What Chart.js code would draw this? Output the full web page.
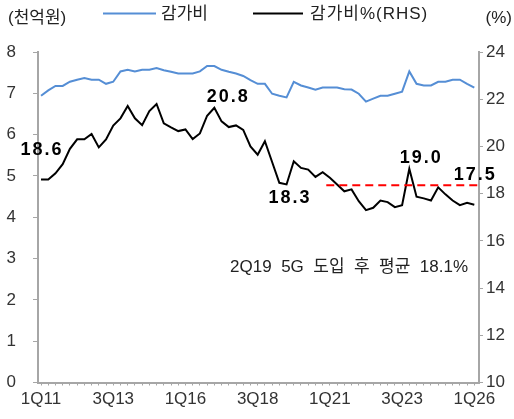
<!DOCTYPE html>
<html>
<head>
<meta charset="utf-8">
<script src="https://cdn.jsdelivr.net/npm/chart.js@4.4.1/dist/chart.umd.min.js"></script>
<style>
  html, body { margin: 0; padding: 0; background: #fff; }
</style>
</head>
<body>
<canvas id="chart" width="514" height="419"></canvas>
<script>
// quarters 1Q11 .. 1Q26
const quarters = [];
for (let y = 11; y <= 26; y++) {
    for (let q = 1; q <= 4; q++) {
        if (quarters.length < 61) quarters.push(q + "Q" + y);
    }
}
const tickLabels = ["1Q11", "3Q13", "1Q16", "3Q18", "1Q21", "3Q23", "1Q26"];

// 감가비 (천억원)
const depreciation = [
    6.94, 7.07, 7.18, 7.18, 7.28, 7.33, 7.37, 7.33, 7.33, 7.23,
    7.28, 7.53, 7.57, 7.53, 7.57, 7.57, 7.61, 7.56, 7.52, 7.48,
    7.48, 7.48, 7.53, 7.66, 7.66, 7.57, 7.52, 7.48, 7.42, 7.32,
    7.23, 7.23, 6.99, 6.94, 6.90, 7.28, 7.19, 7.14, 7.09, 7.14,
    7.14, 7.14, 7.10, 7.09, 6.99, 6.80, 6.87, 6.94, 6.94, 6.99,
    7.04, 7.53, 7.23, 7.19, 7.19, 7.28, 7.28, 7.33, 7.33, 7.23,
    7.14
];

// 감가비% (RHS)
const ratio = [
    18.60, 18.60, 18.86, 19.25, 19.90, 20.30, 20.30, 20.53, 19.96, 20.30,
    20.88, 21.19, 21.71, 21.19, 20.90, 21.50, 21.80, 20.98, 20.81, 20.65,
    20.72, 20.31, 20.55, 21.30, 21.64, 21.06, 20.82, 20.89, 20.70, 20.00,
    19.65, 20.22, 19.34, 18.46, 18.39, 19.37, 19.09, 19.02, 18.71, 18.91,
    18.67, 18.39, 18.10, 18.18, 17.68, 17.30, 17.40, 17.71, 17.64, 17.43,
    17.51, 19.05, 17.87, 17.80, 17.71, 18.27, 17.97, 17.71, 17.51, 17.61,
    17.53
];

// average line after 5G
const avgValue = 18.36;
const avgRange = [39.5, 60.65];
const avgText = "2Q19  5G  도입  후  평균  18.1%";

// value callouts
const calloutIndex = [0, 24, 34, 51, 60];
const calloutText = ["18.6", "20.8", "18.3", "19.0", "17.5"];
const calloutOffset = [[1, -29], [14, -11], [3.5, 14], [12, -11], [1, -30]];

const FONT = '"Liberation Sans", "Noto Sans CJK KR", sans-serif';
const AXIS_COLOR = "#a6a6a6";
const TEXT_COLOR = "#333";

const overlay = {
    id: "overlay",
    afterDraw(chart) {
        const ctx = chart.ctx;
        const x = chart.scales.x;
        const yR = chart.scales.yR;
        const area = chart.chartArea;
        ctx.save();

        // callouts
        ctx.font = "bold 18px " + FONT;
        ctx.letterSpacing = "2px";
        ctx.fillStyle = "#000";
        ctx.textAlign = "center";
        ctx.textBaseline = "middle";
        calloutIndex.forEach((idx, k) => {
            const px = x.getPixelForValue(idx) + calloutOffset[k][0];
            const py = yR.getPixelForValue(ratio[idx]) + calloutOffset[k][1];
            ctx.fillText(calloutText[k], px, py);
        });
        ctx.letterSpacing = "0px";

        // average note
        ctx.font = "17px " + FONT;
        ctx.fillStyle = "#222";
        ctx.textAlign = "right";
        ctx.fillText(avgText, area.right - 11, area.top + 215);

        // units + legend
        ctx.font = "17px " + FONT;
        ctx.fillStyle = "#222";
        ctx.textAlign = "left";
        ctx.fillText("(천억원)", 8, 18);
        ctx.textAlign = "right";
        ctx.fillText("(%)", 512, 18);
        ctx.textAlign = "left";
        ctx.fillText("감가비", 161, 14);
        ctx.letterSpacing = "1px";
        ctx.fillText("감가비%(RHS)", 310, 14);
        ctx.letterSpacing = "0px";

        ctx.lineWidth = 2;
        ctx.strokeStyle = "#558ed5";
        ctx.beginPath(); ctx.moveTo(103, 13.5); ctx.lineTo(156, 13.5); ctx.stroke();
        ctx.strokeStyle = "#000";
        ctx.beginPath(); ctx.moveTo(253, 13.5); ctx.lineTo(303, 13.5); ctx.stroke();
        ctx.restore();
    }
};

new Chart(document.getElementById("chart"), {
    type: "line",
    data: {
        datasets: [
            {
                label: "평균",
                data: avgRange.map(v => ({ x: v, y: avgValue })),
                yAxisID: "yR",
                borderColor: "#ff0000",
                borderWidth: 2,
                borderDash: [8, 5],
                pointRadius: 0
            },
            {
                label: "감가비",
                data: depreciation.map((v, i) => ({ x: i, y: v })),
                yAxisID: "y",
                borderColor: "#558ed5",
                borderWidth: 2,
                pointRadius: 0,
                tension: 0
            },
            {
                label: "감가비%(RHS)",
                data: ratio.map((v, i) => ({ x: i, y: v })),
                yAxisID: "yR",
                borderColor: "#000",
                borderWidth: 2,
                pointRadius: 0,
                tension: 0
            }
        ]
    },
    options: {
        responsive: false,
        devicePixelRatio: 1,
        animation: false,
        layout: { padding: { top: 52, left: 0, right: 0, bottom: 0 } },
        plugins: { legend: { display: false }, tooltip: { enabled: false } },
        scales: {
            x: {
                type: "linear",
                min: -0.42,
                max: 60.65,
                afterBuildTicks: s => { s.ticks = quarters.map((_, i) => ({ value: i })); },
                afterFit: s => { s.height = 36.5; },
                ticks: {
                    autoSkip: false,
                    maxRotation: 0,
                    padding: 4,
                    color: TEXT_COLOR,
                    font: { family: FONT, size: 17 },
                    callback: v => tickLabels.includes(quarters[v]) ? quarters[v] : ""
                },
                grid: { drawOnChartArea: false, tickLength: 3, color: AXIS_COLOR },
                border: { color: AXIS_COLOR, width: 2 }
            },
            y: {
                position: "left",
                min: 0,
                max: 8,
                afterFit: s => { s.width = 38; },
                ticks: {
                    stepSize: 1,
                    padding: 17,
                    color: TEXT_COLOR,
                    font: { family: FONT, size: 17 }
                },
                grid: { drawOnChartArea: false, tickLength: 5, color: AXIS_COLOR },
                border: { color: AXIS_COLOR, width: 2 }
            },
            yR: {
                position: "right",
                min: 10,
                max: 24,
                afterFit: s => { s.width = 35; },
                ticks: {
                    stepSize: 2,
                    padding: 3,
                    color: TEXT_COLOR,
                    font: { family: FONT, size: 17 }
                },
                grid: { drawOnChartArea: false, tickLength: 4, color: AXIS_COLOR },
                border: { color: AXIS_COLOR, width: 2 }
            }
        }
    },
    plugins: [overlay]
});
</script>
</body>
</html>
